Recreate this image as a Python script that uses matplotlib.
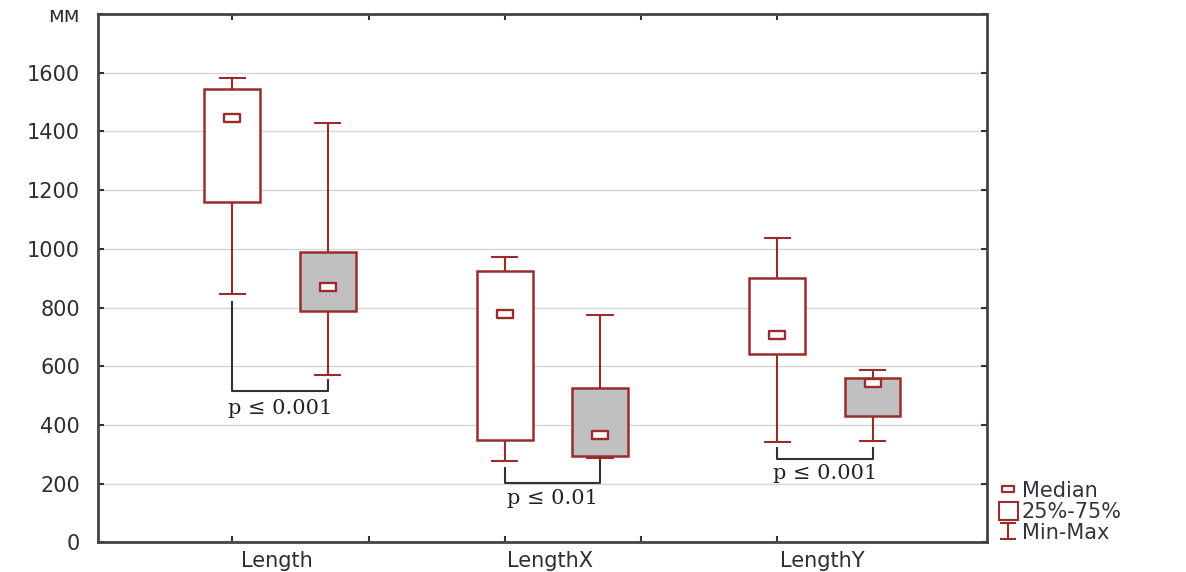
import matplotlib.pyplot as plt
from matplotlib.path import Path
from matplotlib.lines import Line2D
from matplotlib.patches import Patch

# ---- data (mm) ----
groups = ['Length', 'LengthX', 'LengthY']

# first (white) box in each group
a_min = [845, 278, 342]
a_q1 = [1160, 348, 640]
a_med = [1445, 778, 705]
a_q3 = [1543, 925, 901]
a_max = [1581, 971, 1036]

# second (gray) box in each group
b_min = [570, 288, 345]
b_q1 = [789, 295, 430]
b_med = [871, 366, 544]
b_q3 = [988, 525, 559]
b_max = [1428, 773, 587]

# significance brackets
br_left_top = [820, 252, 320]
br_right_top = [553, 280, 320]
br_bottom = [515, 201, 283]
p_text = ['p ≤ 0.001', 'p ≤ 0.01', 'p ≤ 0.001']
p_y = [457, 150, 235]

yticks = [0, 200, 400, 600, 800, 1000, 1200, 1400, 1600, 1800]
ytick_labels = ['0', '200', '400', '600', '800', '1000', '1200', '1400', '1600', 'мм']

# ---- styling ----
red = '#9a2c2c'
gray_fill = '#c0c0c0'
txt = '#2e2e2e'
box_w = 0.41
cap_w = 0.2
off = 0.7

# wide, flat median marker and an I-beam marker for the legend
med_marker = Path([(-1, -0.55), (1, -0.55), (1, 0.55), (-1, 0.55), (-1, -0.55)],
                  [Path.MOVETO, Path.LINETO, Path.LINETO, Path.LINETO, Path.CLOSEPOLY])
ibeam = Path([(-1, 1), (1, 1), (0, 1), (0, -1), (-1, -1), (1, -1)],
             [Path.MOVETO, Path.LINETO, Path.MOVETO, Path.LINETO, Path.MOVETO, Path.LINETO])

plt.rcParams['font.family'] = ['DejaVu Sans']
fig = plt.figure(figsize=(11.86, 5.72), dpi=100)
ax = fig.add_axes([0.0826, 0.0519, 0.7496, 0.9236])

pos_a = [1 + 2 * i for i in range(len(groups))]
pos_b = [p + off for p in pos_a]


def draw_boxes(pos, mn, q1, med, q3, mx, face):
    ax.vlines(pos, mn, mx, colors=red, linewidth=1.5, zorder=2)
    for p, lo, hi in zip(pos, mn, mx):
        ax.hlines([lo, hi], p - cap_w / 2, p + cap_w / 2, colors=red, linewidth=1.5, zorder=2)
    heights = [h - l for h, l in zip(q3, q1)]
    ax.bar(pos, heights, bottom=q1, width=box_w, color=face, edgecolor=red,
           linewidth=1.8, zorder=3)
    ax.plot(pos, med, linestyle='none', marker=med_marker, markersize=11,
            markerfacecolor='white', markeredgecolor=red, markeredgewidth=1.7, zorder=4)


draw_boxes(pos_a, a_min, a_q1, a_med, a_q3, a_max, 'white')
draw_boxes(pos_b, b_min, b_q1, b_med, b_q3, b_max, gray_fill)

# brackets with p values
for i in range(len(groups)):
    xa, xb = pos_a[i], pos_b[i]
    ax.plot([xa, xa, xb, xb], [br_left_top[i], br_bottom[i], br_bottom[i], br_right_top[i]],
            color='#333333', linewidth=1.5, zorder=2)
    ax.text((xa + xb) / 2, p_y[i], p_text[i], ha='center', va='center',
            fontsize=15, family='DejaVu Serif', color='#222222', zorder=5)

# axes
ax.set_xlim(0.014, 6.54)
ax.set_ylim(0, 1800)
ax.set_yticks(yticks, ytick_labels)
ax.set_xticks([1, 2, 3, 4, 5])
ax.set_xticklabels([])
ax.set_xticks([p + 0.33 for p in pos_a], groups, minor=True)
ax.tick_params(axis='x', which='major', direction='in', length=4, width=1.5,
               top=True, color='#333333')
ax.tick_params(axis='x', which='minor', length=0, pad=6, labelsize=15, labelcolor=txt)
ax.tick_params(axis='y', direction='in', length=4, width=1.5, right=True,
               pad=13, labelsize=15, labelcolor=txt, color='#333333')
ax.yaxis.grid(True, color='#d6d6d6', linewidth=1)
ax.set_axisbelow(True)
for s in ax.spines.values():
    s.set_color('#444444')
    s.set_linewidth(2)

# legend
handles = [
    Line2D([], [], linestyle='none', marker=med_marker, markersize=9,
           markerfacecolor='white', markeredgecolor=red, markeredgewidth=1.6),
    Patch(facecolor='white', edgecolor=red, linewidth=1.5),
    Line2D([], [], linestyle='none', marker=ibeam, markersize=12,
           markeredgecolor=red, markeredgewidth=1.5),
]
fig.legend(handles, ['Median', '25%-75%', 'Min-Max'], loc='lower left',
           bbox_to_anchor=(0.83, 0.025), frameon=False, fontsize=15,
           handlelength=0.9, handleheight=0.9, handletextpad=0.2, labelspacing=0.05,
           labelcolor='#30343c', borderpad=0.2)

plt.savefig('out.png')
